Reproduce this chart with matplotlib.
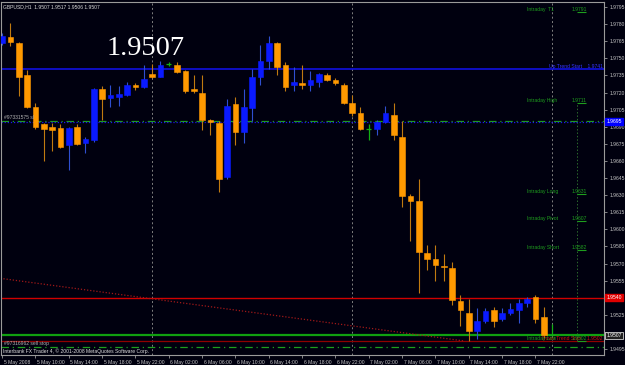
import numpy as np
import matplotlib
matplotlib.use('Agg')
import matplotlib.pyplot as plt
import matplotlib.transforms as mtransforms

# GBPUSD H1 candles, 5 May 2008 06:00 .. 8 May 2008 00:00
opens = [1.9763, 1.9769, 1.9763, 1.9735, 1.9707, 1.9692, 1.9690, 1.9689, 1.9674, 1.9690,
         1.9676, 1.9678, 1.9723, 1.9715, 1.9716, 1.9718, 1.9727, 1.9725, 1.9736, 1.9734,
         1.9745, 1.9744, 1.9739, 1.9723, 1.9720, 1.9696, 1.9693, 1.9646, 1.9710, 1.9685,
         1.9706, 1.9734, 1.9748, 1.9763, 1.9744, 1.9727, 1.9728, 1.9727, 1.9729, 1.9735,
         1.9731, 1.9727, 1.9711, 1.9702, 1.9688, 1.9688, 1.9694, 1.9700, 1.9681, 1.9629,
         1.9625, 1.9579, 1.9574, 1.9568, 1.9566, 1.9537, 1.9527, 1.9511, 1.9520, 1.9529,
         1.9521, 1.9527, 1.9529, 1.9535, 1.9541, 1.9523, 1.9507]
highs = [1.9772, 1.9781, 1.9764, 1.9740, 1.9711, 1.9693, 1.9693, 1.9692, 1.9690, 1.9692,
         1.9681, 1.9724, 1.9726, 1.9727, 1.9726, 1.9729, 1.9728, 1.9744, 1.9745, 1.9748,
         1.9747, 1.9747, 1.9740, 1.9735, 1.9735, 1.9697, 1.9695, 1.9714, 1.9716, 1.9723,
         1.9741, 1.9762, 1.9770, 1.9764, 1.9747, 1.9742, 1.9744, 1.9739, 1.9737, 1.9737,
         1.9733, 1.9728, 1.9718, 1.9707, 1.9692, 1.9696, 1.9708, 1.9711, 1.9695, 1.9631,
         1.9644, 1.9586, 1.9586, 1.9578, 1.9571, 1.9542, 1.9539, 1.9531, 1.9531, 1.9532,
         1.9531, 1.9535, 1.9539, 1.9541, 1.9542, 1.9532, 1.9517]
lows = [1.9762, 1.9761, 1.9717, 1.9706, 1.9688, 1.9660, 1.9669, 1.9671, 1.9652, 1.9674,
        1.9667, 1.9677, 1.9696, 1.9707, 1.9708, 1.9717, 1.9722, 1.9724, 1.9733, 1.9734,
        1.9743, 1.9737, 1.9720, 1.9720, 1.9687, 1.9683, 1.9633, 1.9644, 1.9674, 1.9676,
        1.9695, 1.9727, 1.9741, 1.9735, 1.9721, 1.9721, 1.9723, 1.9721, 1.9725, 1.9730,
        1.9727, 1.9710, 1.9699, 1.9687, 1.9678, 1.9683, 1.9693, 1.9678, 1.9620, 1.9590,
        1.9544, 1.9564, 1.9555, 1.9555, 1.9534, 1.9515, 1.9502, 1.9504, 1.9518, 1.9514,
        1.9520, 1.9525, 1.9518, 1.9532, 1.9518, 1.9505, 1.9506]
closes = [1.9770, 1.9764, 1.9734, 1.9707, 1.9690, 1.9688, 1.9687, 1.9672, 1.9689, 1.9675,
          1.9679, 1.9723, 1.9714, 1.9718, 1.9719, 1.9727, 1.9725, 1.9732, 1.9734, 1.9744,
          1.9745, 1.9738, 1.9721, 1.9721, 1.9696, 1.9694, 1.9644, 1.9708, 1.9685, 1.9707,
          1.9734, 1.9748, 1.9763, 1.9742, 1.9725, 1.9729, 1.9727, 1.9731, 1.9736, 1.9731,
          1.9728, 1.9711, 1.9702, 1.9688, 1.9688, 1.9694, 1.9702, 1.9683, 1.9629, 1.9625,
          1.9580, 1.9574, 1.9569, 1.9567, 1.9538, 1.9529, 1.9511, 1.9520, 1.9528, 1.9520,
          1.9527, 1.9530, 1.9535, 1.9539, 1.9521, 1.9507, 1.9507]

date_labels = ['5 May 2008', '5 May 10:00', '5 May 14:00', '5 May 18:00', '5 May 22:00',
               '6 May 02:00', '6 May 06:00', '6 May 10:00', '6 May 14:00', '6 May 18:00',
               '6 May 22:00', '7 May 02:00', '7 May 06:00', '7 May 10:00', '7 May 14:00',
               '7 May 18:00', '7 May 22:00']
day_starts = [18, 42, 66]

level_names = ['Intraday  T1', 'Intraday High', 'Intraday Long', 'Intraday Pivot',
               'Intraday Short', 'Intraday Low']
level_values = [1.9791, 1.9711, 1.9631, 1.9607, 1.9582, 1.9502]

up_trend = 1.9741
down_trend = 1.9502
red_level = 1.9540
bid = 1.9507
order1 = 1.9695
order2 = 1.9497
trend_x = [-0.2, 55.5]
trend_y = [1.9557, 1.9502]

bg = '#00000f'
orange = '#ff9900'
blue = '#0a1aff'
doji = '#12b012'
lvl_green = '#1e9e1e'
axis_col = '#c4c4c4'

fig = plt.figure(figsize=(6.25, 3.65), dpi=100)
fig.patch.set_facecolor(bg)
ax = fig.add_axes([1/625, 10/365, 603/625, 353/365])
ax.set_facecolor(bg)
ax.set_xlim(-0.12, 72.24)
ax.set_ylim(1.948974, 1.979939)

######Candles
for i in range(len(opens)):
    o, h, l, c = opens[i], highs[i], lows[i], closes[i]
    if o == c:
        ax.vlines(i, l, h, color=doji, lw=0.9, zorder=4)
        ax.hlines(o, i - 0.33, i + 0.33, color=doji, lw=0.9, zorder=4)
        continue
    col = blue if c > o else orange
    wick = '#2f4fd0' if c > o else '#c07a10'
    ax.vlines(i, l, h, color=wick, lw=0.8, zorder=3)
    ax.bar(i, max(abs(c - o), 0.00004), bottom=min(o, c), width=0.68, color=col,
           edgecolor=col, lw=0.4, zorder=4)

######Horizontal lines
ax.axhline(up_trend, color='#1010e0', lw=1.2, zorder=2)
ax.axhline(order1, color=lvl_green, lw=0.9, linestyle=(0, (6, 3, 1, 3)), zorder=2)
ax.axhline(order1 - 0.00012, color='#1a1ae8', lw=0.9, linestyle=(0, (1, 1.5)), zorder=2)
ax.axhline(red_level, color='#d00000', lw=1.0, zorder=2)
ax.axhline(bid, color='#10a010', lw=1.6, zorder=2)
ax.axhline(down_trend, color='#900000', lw=0.9, zorder=2)
ax.axhline(order2, color=lvl_green, lw=0.9, linestyle=(0, (6, 3, 1, 3)), zorder=2)
ax.plot(trend_x, trend_y, color='#a01818', lw=0.9, linestyle=(0, (1, 1.5)), zorder=2)

######Day separators
for d in day_starts:
    ax.axvline(d, color='#808080', lw=0.7, linestyle=(0, (2, 2.5)), zorder=1)

######Intraday levels
ax.vlines(69.0, level_values[-1], level_values[1], color='#2c6a2c', lw=0.7,
          linestyle=(0, (1.5, 2)), zorder=1)
for name, val in zip(level_names, level_values):
    ax.text(63.0, val, name, color=lvl_green, fontsize=3.6, family='Liberation Sans',
            ha='left', va='bottom', zorder=6)
    ax.text(68.4, val, '%.4f' % val, color=lvl_green, fontsize=3.6, family='Liberation Sans',
            ha='left', va='bottom', zorder=6)
    ax.hlines(val, 69.0, 70.1, color=lvl_green, lw=0.8, zorder=5)
ax.text(72.1, up_trend, 'Up Trend Start    %.4f' % up_trend, color='#3535ff', fontsize=3.6,
        family='Liberation Sans', ha='right', va='bottom', zorder=6)
ax.text(72.1, down_trend, 'Down Trend Start    %.4f' % down_trend, color='#d01010', fontsize=3.6,
        family='Liberation Sans', ha='right', va='bottom', zorder=5)

######Texts
ax.text(12.5, 1.97529, '%.4f' % closes[-1], color='white', fontsize=20.5,
        family='Liberation Serif', ha='left', va='baseline', zorder=6)
ax.text(0.004, 0.994, 'GBPUSD,H1  %.4f %.4f %.4f %.4f' % (opens[-1], highs[-1], lows[-1], closes[-1]),
        transform=ax.transAxes, color='#d8d8d8', fontsize=3.6, family='Liberation Sans',
        ha='left', va='top', zorder=6)
ax.text(0.2, order1 + 0.0001, '#97331575 sl', color='#b0b0b0', fontsize=3.6,
        family='Liberation Sans', ha='left', va='bottom', zorder=6)
ax.text(0.2, order2 + 0.0001, '#97316962 sell stop', color='#b0b0b0', fontsize=3.6,
        family='Liberation Sans', ha='left', va='bottom', zorder=6)
ax.text(0.004, 0.004, 'Interbank FX Trader 4, \u00a9 2001-2008 MetaQuotes Software Corp.',
        transform=ax.transAxes, color='#e0e0e0', fontsize=3.6, family='Liberation Sans',
        ha='left', va='bottom', zorder=6)

######Axes
for s in ax.spines.values():
    s.set_color('#9a9a9a')
    s.set_linewidth(0.8)
ax.yaxis.tick_right()
yt = np.round(np.arange(1.9495, 1.97951, 0.0015), 4)
ax.set_yticks(yt)
# labels hidden under the price boxes are left blank
ax.set_yticklabels(['' if v in (red_level, 1.9510) else '%.4f' % v for v in yt],
                   fontsize=3.6, family='Liberation Sans', color=axis_col)
ax.set_xticks(np.arange(0, 65, 4))
ax.set_xticklabels(date_labels, fontsize=3.6, family='Liberation Sans', color=axis_col, ha='left')
ax.tick_params(axis='y', colors='#9a9a9a', labelcolor=axis_col, length=2.5, width=0.6, pad=1.5)
ax.tick_params(axis='x', colors='#9a9a9a', labelcolor=axis_col, length=2.5, width=0.6, pad=1.0)
for lab in ax.get_xticklabels():
    lab.set_transform(lab.get_transform() + mtransforms.ScaledTranslation(1.5/100, 0, fig.dpi_scale_trans))

######Price boxes
bt = mtransforms.blended_transform_factory(ax.transAxes, ax.transData)
ax.text(1.004, order1, '%.4f' % order1, transform=bt, color='white', fontsize=3.6,
        family='Liberation Sans', ha='left', va='center', clip_on=False, zorder=10,
        bbox=dict(boxstyle='square,pad=0.2', fc='#0000ff', ec='#0000ff'))
ax.text(1.004, red_level, '%.4f' % red_level, transform=bt, color='white', fontsize=3.6,
        family='Liberation Sans', ha='left', va='center', clip_on=False, zorder=10,
        bbox=dict(boxstyle='square,pad=0.25', fc='#e00000', ec='#e00000'))
ax.text(1.004, bid, '%.4f' % bid, transform=bt, color='white', fontsize=3.6,
        family='Liberation Sans', ha='left', va='center', clip_on=False, zorder=10,
        bbox=dict(boxstyle='square,pad=0.25', fc='#202020', ec='#d0d0d0', lw=0.6))

fig.savefig('out.png', dpi=100, facecolor=bg)
